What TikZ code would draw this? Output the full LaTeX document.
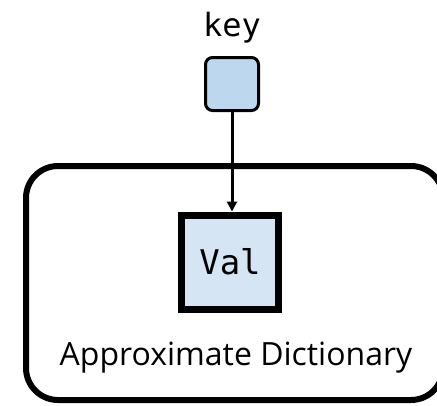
\documentclass[tikz,border=0pt]{standalone}
\usepackage{fontspec}
\setmainfont{Open Sans}
\newfontfamily\monof{DejaVu Sans Mono}
\usetikzlibrary{arrows.meta}
\definecolor{keyfill}{HTML}{BDD7EE}
\definecolor{valfill}{HTML}{D6E5F3}
\begin{document}
\begin{tikzpicture}[x=1pt,y=-1pt,
  keybox/.style={draw=black, line width=3pt, fill=keyfill, rounded corners=7pt, minimum width=53pt, minimum height=53pt, inner sep=0pt},
  valbox/.style={draw=black, line width=7pt, fill=valfill, minimum width=97pt, minimum height=94pt, inner sep=0pt},
  container/.style={draw=black, line width=6pt, rounded corners=32pt},
  conn/.style={line width=3pt, -{Triangle[length=10pt,width=10pt]}}]
\useasboundingbox (0,0) rectangle (437,405);
\begin{scope}
\clip (0,0) rectangle (437,405);
\draw[container] (26,166) rectangle (443,400);
\end{scope}
\node[font=\monof\fontsize{32}{36}\selectfont] (keylabel) at (232,28) {key};
\node[keybox] (key) at (232,84) {};
\node[valbox] (val) at (230,262) {\monof\fontsize{34}{38}\selectfont Val};
\node[font=\fontsize{32}{36}\selectfont] (title) at (236,358) {Approximate Dictionary};
\draw[conn] (key.south) -- (key.south |- val.north);
\end{tikzpicture}
\end{document}
